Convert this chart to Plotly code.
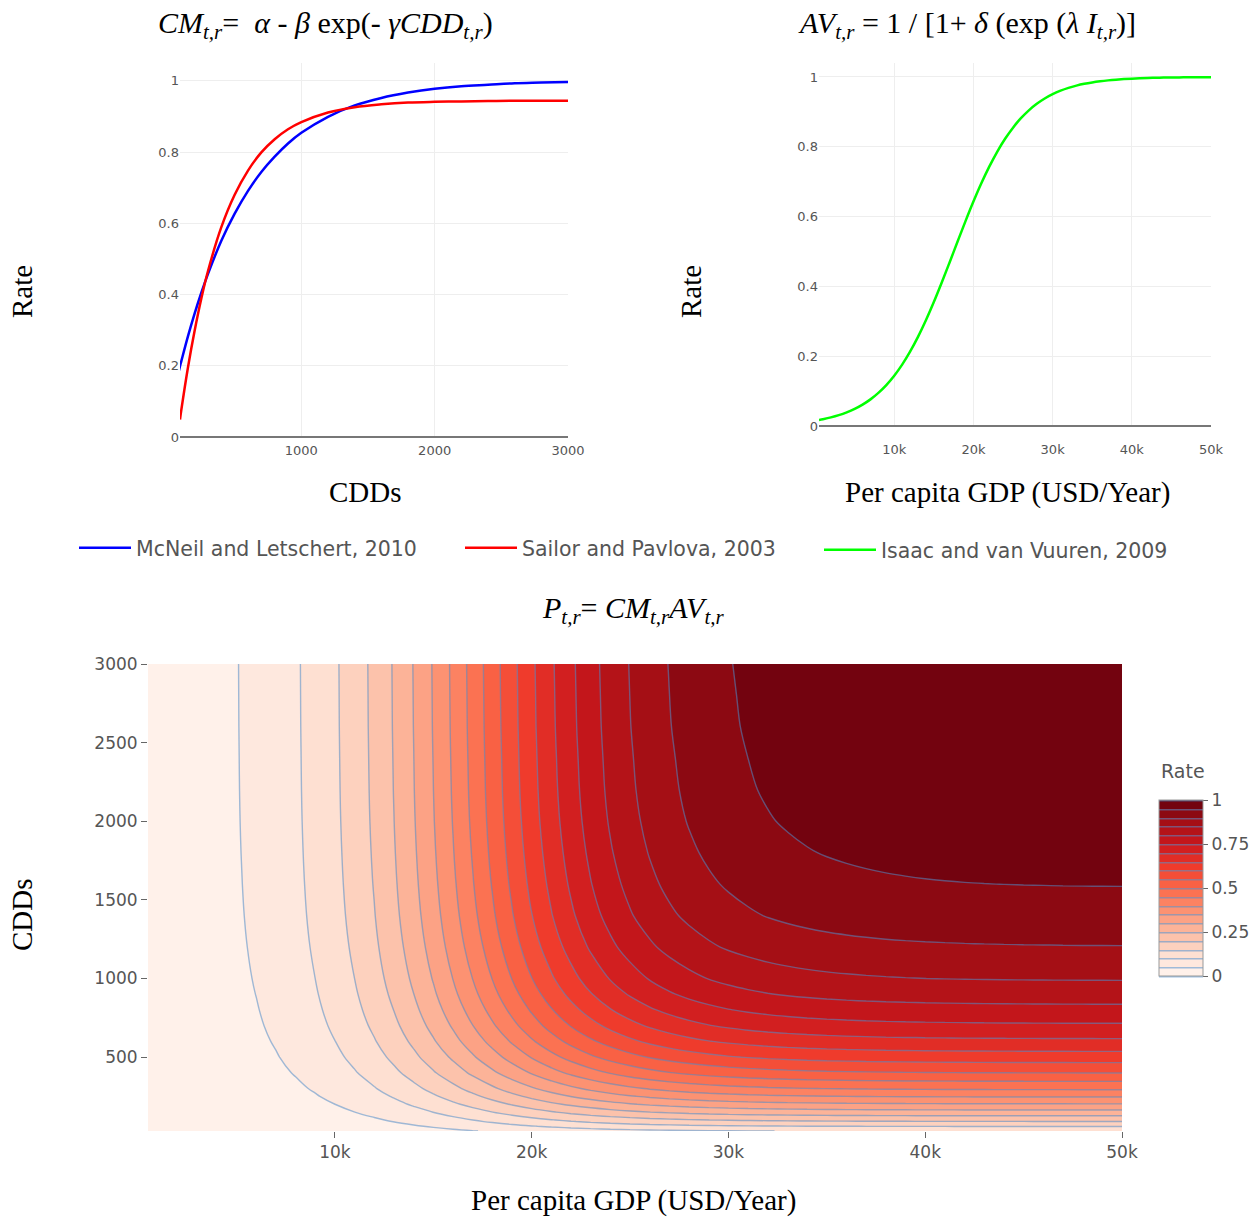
import plotly.graph_objects as go
import plotly.colors as pc

# ---- data ----
cdd = [30, 60, 90, 100, 150, 200, 250, 300, 400, 500, 600, 700, 800, 900, 1000,
       1200, 1400, 1600, 1800, 2000, 2200, 2400, 2600, 2800, 3000]
mcneil = [0.103, 0.152, 0.199, 0.213, 0.283, 0.347, 0.405, 0.458, 0.551, 0.627, 0.691,
          0.744, 0.787, 0.824, 0.854, 0.899, 0.931, 0.952, 0.967, 0.978, 0.985, 0.989,
          0.993, 0.995, 0.997]
sailor = [None, None, 0.049, 0.076, 0.196, 0.299, 0.389, 0.466, 0.589, 0.680, 0.748,
          0.799, 0.836, 0.864, 0.884, 0.911, 0.926, 0.934, 0.939, 0.941, 0.942, 0.943,
          0.944, 0.944, 0.944]

gdp = [500, 1000, 2000, 3000, 4000, 5000, 6000, 7000, 8000, 9000, 10000,
       11000, 12000, 13000, 14000, 15000, 16000, 17000, 18000, 19000, 20000,
       21000, 22000, 23000, 24000, 25000, 26000, 27000, 28000, 29000, 30000,
       31000, 32000, 33000, 34000, 35000, 36000, 37000, 38000, 39000, 40000,
       41000, 42000, 43000, 44000, 45000, 46000, 47000, 48000, 49000, 50000]
isaac = [0.0174, 0.0196, 0.0246, 0.0310, 0.0390, 0.0489, 0.0612, 0.0763, 0.0948, 0.1172, 0.1440,
         0.1758, 0.2128, 0.2552, 0.3028, 0.3550, 0.4110, 0.4693, 0.5285, 0.5869, 0.6429,
         0.6953, 0.7430, 0.7857, 0.8229, 0.8548, 0.8818, 0.9044, 0.9230, 0.9383, 0.9507,
         0.9606, 0.9687, 0.9751, 0.9803, 0.9844, 0.9876, 0.9902, 0.9923, 0.9939, 0.9952,
         0.9962, 0.9970, 0.9976, 0.9981, 0.9985, 0.9988, 0.9991, 0.9993, 0.9994, 0.9995]

series_names = ["McNeil and Letschert, 2010", "Sailor and Pavlova, 2003", "Isaac and van Vuuren, 2009"]

# P = CM * AV built from the read curves
penetration = [[c * a for a in isaac] for c in mcneil]

W, H, M = 1257, 1217, 30
def px(x):
    return (x - M) / (W - 2 * M)
def py(y):
    return 1 - (y - M) / (H - 2 * M)

SANS = "DejaVu Sans"
SERIF = "Liberation Serif"
GRAY = "#555"

fig = go.Figure()

fig.add_trace(go.Scatter(x=cdd, y=mcneil, mode="lines", name=series_names[0],
                         line=dict(color="#0000ff", width=2.5, shape="spline"),
                         xaxis="x", yaxis="y", legend="legend"))
fig.add_trace(go.Scatter(x=cdd, y=sailor, mode="lines", name=series_names[1],
                         line=dict(color="#ff0000", width=2.5, shape="spline"),
                         xaxis="x", yaxis="y", legend="legend2"))
fig.add_trace(go.Scatter(x=gdp, y=isaac, mode="lines", name=series_names[2],
                         line=dict(color="#00ff00", width=2.5, shape="spline"),
                         xaxis="x2", yaxis="y2", legend="legend3"))

fig.add_trace(go.Contour(
    x=gdp, y=cdd, z=penetration,
    colorscale=pc.sequential.Reds,
    zmin=0, zmax=1,
    contours=dict(start=0, end=1, size=0.05, coloring="fill"),
    line=dict(color="rgba(80,140,200,0.55)", width=1.4, smoothing=1),
    xaxis="x3", yaxis="y3", showlegend=False,
    colorbar=dict(
        x=px(1159), xanchor="left", xpad=0, ypad=0,
        y=py(976), yanchor="bottom",
        len=176, lenmode="pixels", thickness=44,
        outlinewidth=1, outlinecolor="#999",
        tickvals=[0, 0.25, 0.5, 0.75, 1], ticktext=["0", "0.25", "0.5", "0.75", "1"],
        ticks="outside", ticklen=5, tickcolor="#666",
        tickfont=dict(size=17, color=GRAY, family=SANS),
    ),
))

tick_small = dict(size=13, color=GRAY, family=SANS)
tick_big = dict(size=17, color=GRAY, family=SANS)
legend_font = dict(size=20.5, color=GRAY, family=SANS)

fig.update_layout(
    width=W, height=H,
    margin=dict(l=M, r=M, t=M, b=M, autoexpand=False),
    paper_bgcolor="white", plot_bgcolor="white",
    showlegend=True,
    xaxis=dict(domain=[px(180), px(568)], range=[90, 3000], tickvals=[1000, 2000, 3000],
               showgrid=True, gridcolor="#eee", zeroline=False, showline=False,
               ticks="outside", ticklen=1, tickcolor="rgba(0,0,0,0)",
               tickfont=tick_small, anchor="y", automargin=False),
    yaxis=dict(domain=[py(437), py(63)], range=[0, 1.05], tickvals=[0, 0.2, 0.4, 0.6, 0.8, 1],
               ticktext=["0", "0.2", "0.4", "0.6", "0.8", "1"],
               showgrid=True, gridcolor="#eee", zeroline=True, zerolinecolor="#777",
               zerolinewidth=1.5, tickfont=tick_small, anchor="x", automargin=False),
    xaxis2=dict(domain=[px(819), px(1211)], range=[500, 50000],
                tickvals=[10000, 20000, 30000, 40000, 50000],
                ticktext=["10k", "20k", "30k", "40k", "50k"],
                showgrid=True, gridcolor="#eee", zeroline=False, showline=False,
                ticks="outside", ticklen=11, tickcolor="rgba(0,0,0,0)",
                tickfont=tick_small, anchor="y2", automargin=False),
    yaxis2=dict(domain=[py(426), py(63)], range=[0, 1.04], tickvals=[0, 0.2, 0.4, 0.6, 0.8, 1],
                ticktext=["0", "0.2", "0.4", "0.6", "0.8", "1"],
                showgrid=True, gridcolor="#eee", zeroline=True, zerolinecolor="#777",
                zerolinewidth=1.5, tickfont=tick_small, anchor="x2", automargin=False),
    xaxis3=dict(domain=[px(148), px(1122)], range=[500, 50000],
                tickvals=[10000, 20000, 30000, 40000, 50000],
                ticktext=["10k", "20k", "30k", "40k", "50k"],
                ticks="outside", ticklen=6, tickcolor="#666", showgrid=False, zeroline=False,
                tickfont=tick_big, anchor="y3", automargin=False),
    yaxis3=dict(domain=[py(1131), py(664)], range=[30, 3000],
                tickvals=[500, 1000, 1500, 2000, 2500, 3000],
                ticks="outside", ticklen=6, tickcolor="#666", showgrid=False, zeroline=False,
                tickfont=tick_big, anchor="x3", automargin=False),
    legend=dict(x=px(74), y=py(548), xanchor="left", yanchor="middle", orientation="h",
                itemwidth=52, font=legend_font, bgcolor="rgba(0,0,0,0)"),
    legend2=dict(x=px(460), y=py(548), xanchor="left", yanchor="middle", orientation="h",
                 itemwidth=52, font=legend_font, bgcolor="rgba(0,0,0,0)"),
    legend3=dict(x=px(819), y=py(550), xanchor="left", yanchor="middle", orientation="h",
                 itemwidth=52, font=legend_font, bgcolor="rgba(0,0,0,0)"),
)

ann = []
def add_text(text, x, y, size=29, angle=0, family=SERIF, color="black"):
    ann.append(dict(text=text, x=px(x), y=py(y), xref="paper", yref="paper",
                    xanchor="center", yanchor="middle", showarrow=False, textangle=angle,
                    font=dict(family=family, size=size, color=color)))

add_text("<i>CM</i><sub><i>t,r</i></sub>=  <i>α</i> - <i>β</i> exp(- <i>γCDD</i><sub><i>t,r</i></sub>)", 325, 25, size=30)
add_text("<i>AV</i><sub><i>t,r</i></sub> = 1 / [1+ <i>δ</i> (exp (<i>λ I</i><sub><i>t,r</i></sub>)]", 967, 25, size=30)
add_text("<i>P</i><sub><i>t,r</i></sub>= <i>CM</i><sub><i>t,r</i></sub><i>AV</i><sub><i>t,r</i></sub>", 633, 610, size=30)
add_text("Rate", 22, 292, angle=-90)
add_text("Rate", 691, 292, angle=-90)
add_text("CDDs", 365, 492)
add_text("Per capita GDP (USD/Year)", 1007, 492)
add_text("CDDs", 22, 915, angle=-90)
add_text("Per capita GDP (USD/Year)", 633, 1200)
add_text("Rate", 1183, 771, size=19, family=SANS, color=GRAY)
fig.update_layout(annotations=ann)

fig.write_html("out.html")
